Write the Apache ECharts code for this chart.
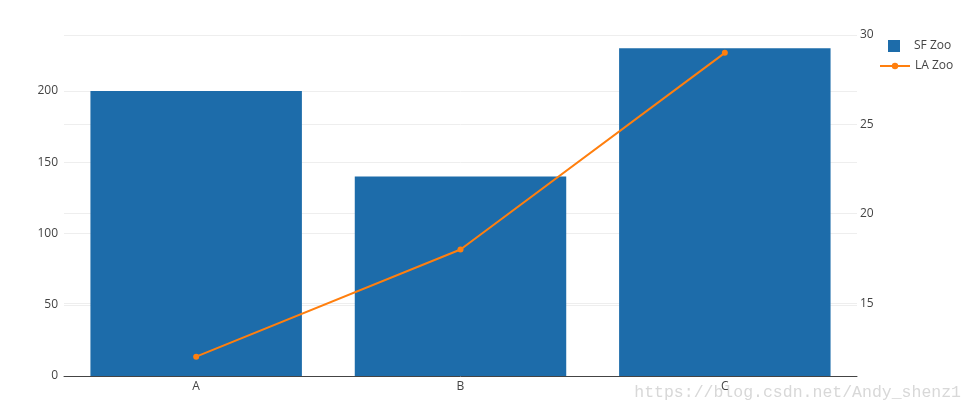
<!DOCTYPE html>
<html><head><meta charset="utf-8">
<script src="https://cdn.jsdelivr.net/npm/echarts@6/dist/echarts.min.js"></script>
<style>html,body{margin:0;padding:0;background:#fff}#c{width:973px;height:412px}</style>
</head><body><div id="c"></div>
<script>
const categories = ['A', 'B', 'C'];
const sfZoo = [200, 140, 230];
const laZoo = [12, 18, 29];
const leftTicks = [0, 50, 100, 150, 200];
const rightTicks = [15, 20, 25, 30];

const font = '"Open Sans", sans-serif';
const chart = echarts.init(document.getElementById('c'));
chart.setOption({
  animation: false,
  grid: {left: 64, right: 116, top: 35, bottom: 36, containLabel: false},
  xAxis: {
    type: 'category', data: categories,
    axisLine: {lineStyle: {color: '#444', width: 1}},
    axisTick: {show: false},
    axisLabel: {color: '#444', fontFamily: font, fontSize: 12, margin: 5}
  },
  yAxis: [{
    type: 'value', min: 0, max: 239.3, interval: 50,
    axisLine: {show: false}, axisTick: {show: false},
    axisLabel: {color: '#444', fontFamily: font, fontSize: 12, margin: 6,
      formatter: v => leftTicks.includes(v) ? String(v) : ''},
    splitLine: {lineStyle: {color: '#eee', width: 1}}
  }, {
    type: 'value', min: 10.92, max: 30.0, position: 'right',
    axisLine: {show: false},
    axisLabel: {color: '#444', fontFamily: font, fontSize: 12, margin: 3,
      customValues: rightTicks, formatter: v => String(v)},
    axisTick: {show: false, customValues: rightTicks},
    splitLine: {lineStyle: {color: '#eee', width: 1}}
  }],
  legend: [{
    data: ['SF Zoo'], left: 883, top: 35, orient: 'vertical',
    itemWidth: 12, itemHeight: 12, icon: 'rect',
    textStyle: {color: '#444', fontFamily: font, fontSize: 12, padding: [0, 0, 0, 9]}
  }, {
    data: ['LA Zoo'], left: 874, top: 55, orient: 'vertical',
    itemWidth: 30, itemHeight: 8,
    textStyle: {color: '#444', fontFamily: font, fontSize: 12}
  }],
  series: [{
    name: 'SF Zoo', type: 'bar', data: sfZoo, yAxisIndex: 0,
    barCategoryGap: '20%', itemStyle: {color: '#1d6caa'}
  }, {
    name: 'LA Zoo', type: 'line', data: laZoo, yAxisIndex: 1,
    symbol: 'circle', symbolSize: 6, showSymbol: true,
    lineStyle: {color: '#ff7f0e', width: 2},
    itemStyle: {color: '#ff7f0e'}
  }],
  graphic: [{
    type: 'text', right: 12, top: 384,
    style: {text: 'https://blog.csdn.net/Andy_shenz1', fill: '#d8d8d8',
      font: '16.5px "Liberation Mono", monospace'}
  }]
});
</script></body></html>
